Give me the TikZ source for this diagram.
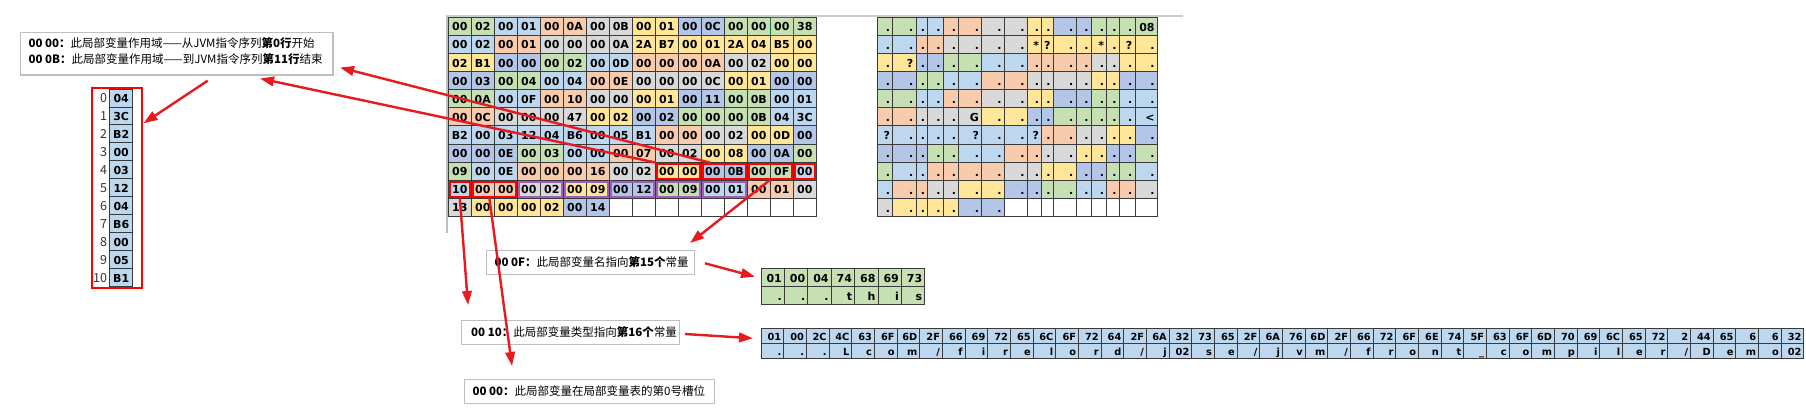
\documentclass[tikz,border=0pt]{standalone}
\usepackage{fontspec}
\setmainfont{DejaVu Sans}
\newfontfamily\cjk{Noto Sans CJK SC}
\usetikzlibrary{arrows.meta,fit,calc}
\definecolor{cG}{HTML}{C6E0B4}
\definecolor{cLB}{HTML}{BDD7EE}
\definecolor{cO}{HTML}{F8CBAD}
\definecolor{cGr}{HTML}{D9D9D9}
\definecolor{cY}{HTML}{FFE699}
\definecolor{cSB}{HTML}{B4C6E7}
\definecolor{cW}{HTML}{FFFFFF}
\definecolor{arrred}{HTML}{E8191F}
\definecolor{boxred}{HTML}{FF0000}
\definecolor{purp}{HTML}{9E5FB8}
\definecolor{gridline}{HTML}{3A3A3A}
\definecolor{tboxline}{HTML}{BFBFBF}
\definecolor{xlgreen}{HTML}{217346}
\tikzset{
  cellbox/.style={draw=gridline, line width=0.9pt, inner sep=0pt, outer sep=0pt, anchor=north west},
  hextxt/.style={font=\bfseries\fontsize{11}{12}\selectfont, anchor=base, inner sep=0pt},
  asctxt/.style={font=\bfseries\fontsize{11}{12}\selectfont, anchor=base east, inner sep=0pt},
  smalltxt/.style={font=\bfseries\fontsize{9.8}{11}\selectfont, anchor=base east, inner sep=0pt},
  numtxt/.style={font=\cjk\fontsize{12.5}{14}\selectfont, anchor=base east, inner sep=0pt, text=black!80},
  tbox/.style={draw=tboxline, line width=1.1pt, inner sep=0pt, outer sep=0pt, anchor=north west},
  cjktxt/.style={font=\cjk\fontsize{11.5}{13}\selectfont, anchor=west, inner sep=0pt},
  redarrow/.style={draw=arrred, line width=2.4pt, -{Triangle[length=14pt,width=9.5pt]}},
  hlred/.style={draw=boxred, line width=2pt, inner sep=-1.5pt},
  hlpurp/.style={draw=purp, line width=2pt, inner sep=-1.5pt},
}
\def\axs{{877.3,892.7,916,927.7,943.3,958.7,981.7,1004.3,1027.3,1041.7,1053.3,1076,1091.3,1106.7,1119.3,1135,1157.3}}
\newcommand\hexrow[2]{%
  \foreach \cc/\hv/\av [count=\i from 0] in {#2} {%
    \pgfmathsetmacro\hx{448.3+23*\i}%
    \pgfmathsetmacro\hy{17.3+18.1*#1}%
    \pgfmathsetmacro\axl{\axs[\i]}%
    \pgfmathsetmacro\axr{\axs[\i+1]}%
    \pgfmathsetmacro\aw{\axr-\axl}%
    \node[cellbox, fill=c\cc, minimum width=23pt, minimum height=18.1pt] (h#1-\i) at (\hx,\hy) {};
    \node[hextxt] (ht#1-\i) at (\hx+11.5,\hy+13.6) {\hv};
    \node[cellbox, fill=c\cc, minimum width=\aw pt, minimum height=18.1pt] (a#1-\i) at (\axl,\hy) {};
    \node[asctxt] (at#1-\i) at (\axr-2.5,\hy+14) {\av};
  }}
\begin{document}
\begin{tikzpicture}[x=1pt,y=-1pt]
\useasboundingbox (0,0) rectangle (1806,414);
\fill[white] (0,0) rectangle (1806,414);
% sheet lines
\draw[black!20, line width=2pt] (446,16.3) -- (1183,16.3);
\draw[black!25, line width=1.2pt] (447,16) -- (447,233);
% hex grid + ascii grid
\hexrow{0}{G/00/., G/02/., LB/00/., LB/01/., O/00/., O/0A/., Gr/00/., Gr/0B/., Y/00/., Y/01/., SB/00/., SB/0C/., G/00/., G/00/., G/00/., G/38/08}
\hexrow{1}{LB/00/., LB/02/., O/00/., O/01/., Gr/00/., Gr/00/., Gr/00/., Gr/0A/., Y/2A/*, Y/B7/?, Y/00/., Y/01/., Y/2A/*, Y/04/., Y/B5/?, Y/00/.}
\hexrow{2}{Y/02/., Y/B1/?, SB/00/., SB/00/., G/00/., G/02/., LB/00/., LB/0D/., O/00/., O/00/., O/00/., O/0A/., Gr/00/., Gr/02/., Y/00/., Y/00/.}
\hexrow{3}{SB/00/., SB/03/., G/00/., G/04/., LB/00/., LB/04/., O/00/., O/0E/., Gr/00/., Gr/00/., Gr/00/., Gr/0C/., Y/00/., Y/01/., SB/00/., SB/00/.}
\hexrow{4}{G/00/., G/0A/., LB/00/., LB/0F/., O/00/., O/10/., Gr/00/., Gr/00/., Y/00/., Y/01/., SB/00/., SB/11/., G/00/., G/0B/., LB/00/., LB/01/.}
\hexrow{5}{O/00/., O/0C/., Gr/00/., Gr/00/., Gr/00/., Gr/47/G, Y/00/., Y/02/., SB/00/., SB/02/., G/00/., G/00/., G/00/., G/0B/., LB/04/., LB/3C/<}
\hexrow{6}{LB/B2/?, LB/00/., LB/03/., LB/12/., LB/04/., LB/B6/?, LB/00/., LB/05/., LB/B1/?, O/00/., O/00/., Gr/00/., Gr/02/., Y/00/., Y/0D/., SB/00/.}
\hexrow{7}{SB/00/., SB/00/., SB/0E/., G/00/., G/03/., LB/00/., LB/00/., O/00/., O/07/., Gr/00/., Gr/02/., Y/00/., Y/08/., SB/00/., SB/0A/., G/00/.}
\hexrow{8}{G/09/., LB/00/., LB/0E/., O/00/., O/00/., O/00/., O/16/., Gr/00/., Gr/02/., Y/00/., Y/00/., SB/00/., SB/0B/., G/00/., G/0F/., LB/00/.}
\hexrow{9}{LB/10/., O/00/., O/00/., Gr/00/., Gr/02/., Y/00/., Y/09/., SB/00/., SB/12/., G/00/., G/09/., LB/00/., LB/01/., O/00/., O/01/., Gr/00/.}
\hexrow{10}{Gr/13/., Y/00/., Y/00/., Y/00/., Y/02/., SB/00/., SB/14/., W/{}/{}, W/{}/{}, W/{}/{}, W/{}/{}, W/{}/{}, W/{}/{}, W/{}/{}, W/{}/{}, W/{}/{}}
% excel selection
\node[draw=xlgreen, line width=1pt, inner sep=0pt, fit=(h0-14)] (sel) {};
% highlights
\node[hlred, fit=(h8-9)(h8-10)] (rA) {};
\node[hlred, fit=(h8-11)(h8-12)] (rB) {};
\node[hlred, fit=(h8-13)(h8-14)] (rC) {};
\node[hlred, fit=(h8-15)] (rD) {};
\node[hlred, fit=(h9-0)] (rE) {};
\node[hlred, fit=(h9-1)(h9-2)] (rF) {};
\node[hlpurp, fit=(h9-3)(h9-4)] (p1) {};
\node[hlpurp, fit=(h9-5)(h9-6)] (p2) {};
\node[hlpurp, fit=(h9-7)(h9-8)] (p3) {};
\node[hlpurp, fit=(h9-9)(h9-10)] (p4) {};
\node[hlpurp, fit=(h9-11)(h9-12)] (p5) {};
% index table
\foreach \v [count=\i from 0] in {04,3C,B2,00,03,12,04,B6,00,05,B1} {
  \node[cellbox, fill=cLB, minimum width=23pt, minimum height=17.97pt] (ix\i) at (109.7,89+17.97*\i) {};
  \node[hextxt] (ixt\i) at (121.2,89+17.97*\i+13.4) {\v};
  \node[numtxt] (ixn\i) at (107.3,89+17.97*\i+14) {\i};
}
\node[draw=boxred, line width=2pt, inner sep=0pt, outer sep=0pt, anchor=north west, minimum width=50.6pt, minimum height=200.6pt] (ixbox) at (91.7,87.7) {};
% text boxes
\node[tbox, minimum width=312.3pt, minimum height=42.7pt] (tb1) at (20.7,32.3) {};
\node[cjktxt] (t1a) at (28.3,43) {{\bfseries 00 00：}此局部变量作用域——从JVM指令序列{\bfseries 第0行}开始};
\node[cjktxt] (t1b) at (28.3,58.7) {{\bfseries 00 0B：}此局部变量作用域——到JVM指令序列{\bfseries 第11行}结束};
\node[tbox, minimum width=207.6pt, minimum height=23.6pt] (tb2) at (486.7,250.7) {};
\node[cjktxt] (t2) at (494.3,262.3) {{\bfseries 00 0F：}此局部变量名指向{\bfseries 第15个}常量};
\node[tbox, minimum width=217.6pt, minimum height=23.6pt] (tb3) at (461.7,320.7) {};
\node[cjktxt] (t3) at (471,332.5) {{\bfseries 00 10：}此局部变量类型指向{\bfseries 第16个}常量};
\node[tbox, minimum width=250pt, minimum height=24pt] (tb4) at (464.3,379.3) {};
\node[cjktxt] (t4) at (472.3,391.3) {{\bfseries 00 00：}此局部变量在局部变量表的第0号槽位};
% green constant table
\foreach \hv/\av [count=\i from 0] in {01/., 00/., 04/., 74/t, 68/h, 69/i, 73/s} {
  \pgfmathsetmacro\gx{761+23.4*\i}
  \node[cellbox, fill=cG, minimum width=23.4pt, minimum height=18pt] (g0-\i) at (\gx,268.3) {};
  \node[cellbox, fill=cG, minimum width=23.4pt, minimum height=18pt] (g1-\i) at (\gx,286.3) {};
  \node[asctxt] (gt0-\i) at (\gx+21,282.3) {\hv};
  \node[asctxt] (gt1-\i) at (\gx+21,300.3) {\av};
}
% blue constant table
\foreach \hv/\av [count=\i from 0] in {01/., 00/., 2C/., 4C/L, 63/c, 6F/o, 6D/m, 2F/{/}, 66/f, 69/i, 72/r, 65/e, 6C/l, 6F/o, 72/r, 64/d, 2F/{/}, 6A/j, 32/02, 73/s, 65/e, 2F/{/}, 6A/j, 76/v, 6D/m, 2F/{/}, 66/f, 72/r, 6F/o, 6E/n, 74/t, 5F/\_, 63/c, 6F/o, 6D/m, 70/p, 69/i, 6C/l, 65/e, 72/r, 2/{/}, 44/D, 65/e, 6/m, 6/o, 32/02} {
  \pgfmathsetmacro\bx{761+22.67*\i}
  \node[cellbox, fill=cLB, minimum width=22.67pt, minimum height=15pt] (b0-\i) at (\bx,328.5) {};
  \node[cellbox, fill=cLB, minimum width=22.67pt, minimum height=15pt] (b1-\i) at (\bx,343.5) {};
  \node[smalltxt] (bt0-\i) at (\bx+20.5,340) {\hv};
  \node[smalltxt] (bt1-\i) at (\bx+20.5,355) {\av};
}
% arrows
\coordinate (s1) at (207.7,80.7);
\coordinate (e1) at (143.5,123.3);
\coordinate (e2) at (340,67.5);
\coordinate (e3) at (260,78.5);
\coordinate (e4) at (690,243);
\coordinate (e5) at (468,305);
\coordinate (e6) at (512,366);
\coordinate (s7) at (705,263.3);
\coordinate (e7) at (755,276.7);
\coordinate (s8) at (685,334);
\coordinate (e8) at (753,338.3);
\draw[redarrow] (s1) -- (e1);
\draw[redarrow] ($(rB.north west)+(8,0)$) -- (e2);
\draw[redarrow] (rA.north west) -- (e3);
\draw[redarrow] (rC.south) -- (e4);
\draw[redarrow] (rE.south) -- (e5);
\draw[redarrow] ($(rF.south)+(-5,0)$) -- (e6);
\draw[redarrow] (s7) -- (e7);
\draw[redarrow] (s8) -- (e8);
\end{tikzpicture}
\end{document}
